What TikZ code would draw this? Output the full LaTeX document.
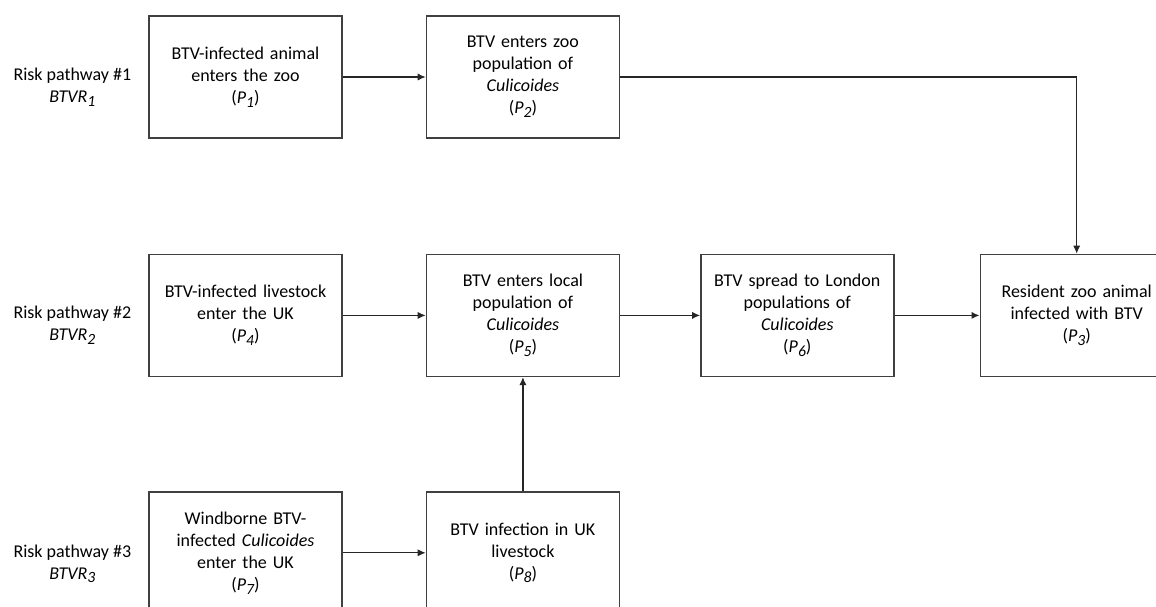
\documentclass[tikz,border=0pt]{standalone}
\usepackage{fontspec}
\setmainfont{Carlito}
\usetikzlibrary{positioning,arrows.meta}
\newcommand{\lowsub}[1]{\raisebox{-0.45ex}{\fontsize{7.8}{9}\selectfont #1}}
\begin{document}
\begin{tikzpicture}
    \tikzset{box/.style={draw=black!75,line width=0.7pt,minimum width=96.5pt,minimum height=61pt,
      text width=92pt,align=center,inner sep=2pt,font=\fontsize{9}{11}\selectfont},
    lbl/.style={align=center,font=\fontsize{9}{11}\selectfont},
    arr/.style={->,>={Latex[length=4pt,width=3.6pt]},draw=black!85,line width=0.6pt}}
    \useasboundingbox (0,0) rectangle (578pt,-303pt);
    \node[box] (p1) at (122.75pt,-38.5pt) {BTV-infected animal\\enters the zoo\\(\textit{P\lowsub{1}})};%pathway 1
    \node[box] (p2) [right=41.5pt of p1] {BTV enters zoo\\population of\\\textit{Culicoides}\\(\textit{P\lowsub{2}})};
    \node[box] (p4) [below=57.5pt of p1] {BTV-infected livestock\\enter the UK\\(\textit{P\lowsub{4}})};%pathway 2
    \node[box] (p5) [right=41.5pt of p4] {BTV enters local\\population of\\\textit{Culicoides}\\(\textit{P\lowsub{5}})};
    \node[box] (p6) [right=40pt of p5] {BTV spread to London\\populations of\\\textit{Culicoides}\\(\textit{P\lowsub{6}})};
    \node[box] (p3) [right=42.5pt of p6] {Resident zoo animal\\infected with BTV\\(\textit{P\lowsub{3}})};%end point
    \node[box] (p7) [below=57pt of p4] {Windborne BTV-\\infected \textit{Culicoides}\\enter the UK\\(\textit{P\lowsub{7}})};%pathway 3
    \node[box] (p8) [right=41.5pt of p7] {BTV infection in UK\\livestock\\(\textit{P\lowsub{8}})};

    \node[lbl] (r1) [left=5pt of p1,yshift=-5pt] {Risk pathway \#1\\\textit{BTVR\lowsub{1}}};
    \node[lbl] (r2) [left=5pt of p4,yshift=-5pt] {Risk pathway \#2\\\textit{BTVR\lowsub{2}}};
    \node[lbl] (r3) [left=5pt of p7,yshift=-5.5pt] {Risk pathway \#3\\\textit{BTVR\lowsub{3}}};

    \draw[arr] (p1) -- (p2);
    \draw[arr] (p2.east) -| (p3.north);
    \draw[arr] (p4) -- (p5);
    \draw[arr] (p5) -- (p6);
    \draw[arr] (p6) -- (p3);
    \draw[arr] (p7) -- (p8);
    \draw[arr] (p8) -- (p5);
\end{tikzpicture}
\end{document}
